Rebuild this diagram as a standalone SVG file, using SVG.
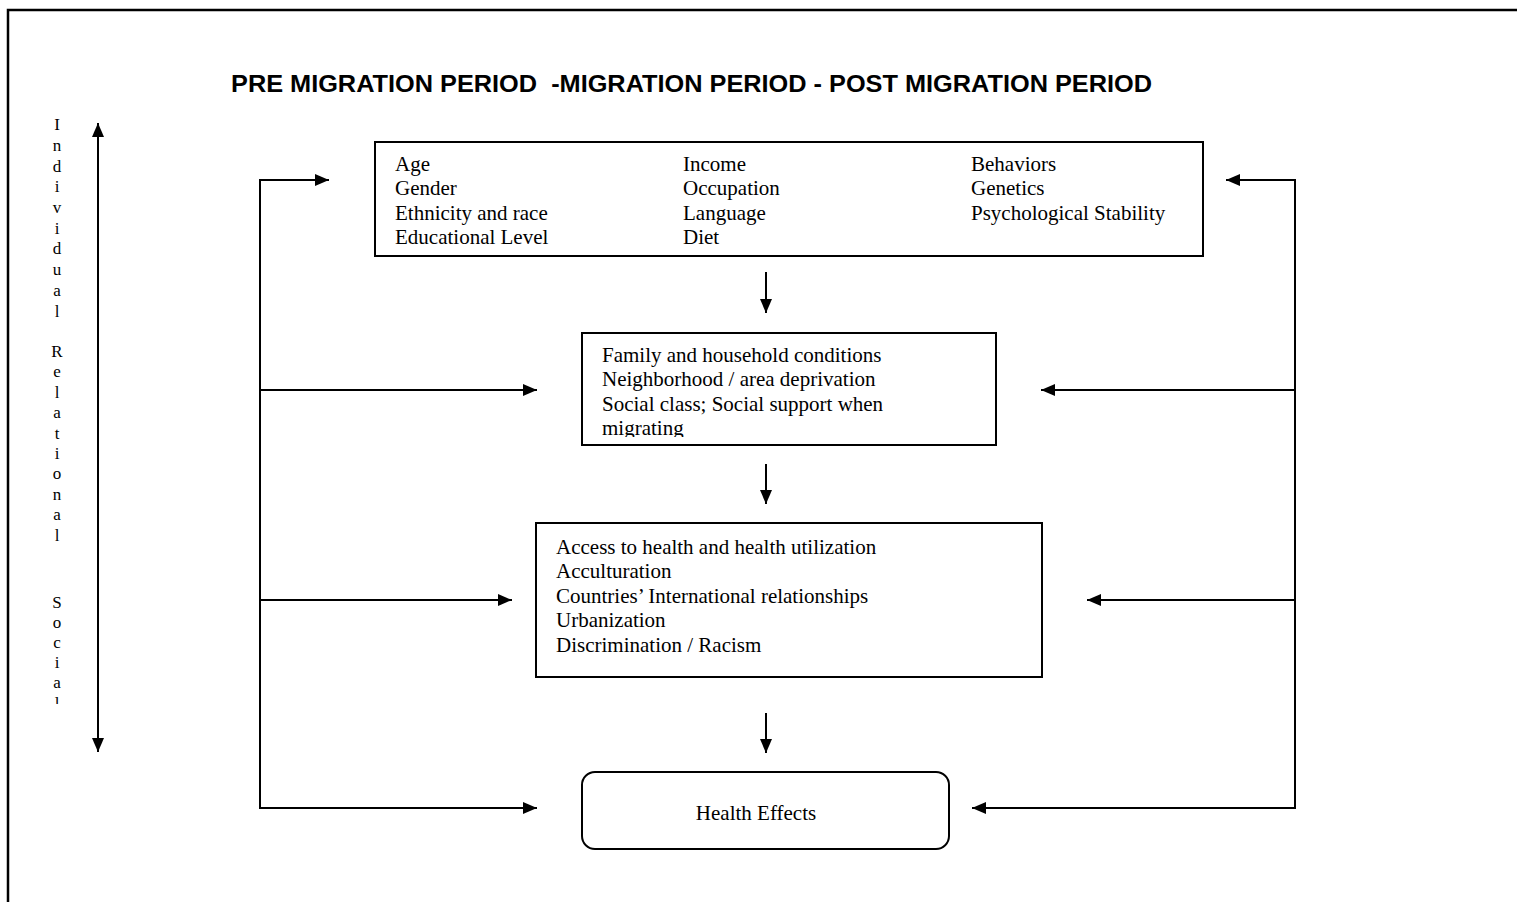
<svg xmlns="http://www.w3.org/2000/svg" width="1517" height="902" viewBox="0 0 1517 902">
  <style>
    .frame { fill: none; stroke: #000; stroke-width: 2.5; }
    .box { fill: #fff; stroke: #000; stroke-width: 2; }
    .line { fill: none; stroke: #000; stroke-width: 2; }
    .txt { font-family: "Liberation Serif", "Times New Roman", serif; font-size: 21px; fill: #000; }
    .vtxt { font-family: "Liberation Serif", "Times New Roman", serif; font-size: 17px; fill: #000; text-anchor: middle; }
    .title { font-family: "Liberation Sans", Arial, sans-serif; font-size: 24px; font-weight: bold; fill: #000; }
  </style>
  <defs>
    <marker id="arrow" viewBox="0 0 14 12" refX="14" refY="6" markerWidth="14" markerHeight="12" markerUnits="userSpaceOnUse" orient="auto-start-reverse">
      <path d="M0,0 L14,6 L0,12 Z" fill="#000"/>
    </marker>
    <clipPath id="clip-side">
      <rect x="30" y="100" width="60" height="604"/>
    </clipPath>
    <clipPath id="clip-social">
      <rect x="582" y="333" width="414" height="104"/>
    </clipPath>
  </defs>

  <rect width="1517" height="902" fill="#fff"/>

  <!-- page frame, open to the right and bottom -->
  <path class="frame" d="M8,904 L8,10 L1519,10"/>

  <text class="title" x="231" y="92" textLength="921" lengthAdjust="spacingAndGlyphs" xml:space="preserve">PRE MIGRATION PERIOD  -MIGRATION PERIOD - POST MIGRATION PERIOD</text>

  <!-- side axis label -->
  <g id="axis-label" clip-path="url(#clip-side)">
    <text class="vtxt" x="57" y="130">I</text>
    <text class="vtxt" x="57" y="151">n</text>
    <text class="vtxt" x="57" y="172">d</text>
    <text class="vtxt" x="57" y="192">i</text>
    <text class="vtxt" x="57" y="213">v</text>
    <text class="vtxt" x="57" y="234">i</text>
    <text class="vtxt" x="57" y="254">d</text>
    <text class="vtxt" x="57" y="275">u</text>
    <text class="vtxt" x="57" y="296">a</text>
    <text class="vtxt" x="57" y="317">l</text>
    <text class="vtxt" x="57" y="357">R</text>
    <text class="vtxt" x="57" y="377">e</text>
    <text class="vtxt" x="57" y="398">l</text>
    <text class="vtxt" x="57" y="418">a</text>
    <text class="vtxt" x="57" y="439">t</text>
    <text class="vtxt" x="57" y="459">i</text>
    <text class="vtxt" x="57" y="479">o</text>
    <text class="vtxt" x="57" y="500">n</text>
    <text class="vtxt" x="57" y="520">a</text>
    <text class="vtxt" x="57" y="541">l</text>
    <text class="vtxt" x="57" y="608">S</text>
    <text class="vtxt" x="57" y="628">o</text>
    <text class="vtxt" x="57" y="648">c</text>
    <text class="vtxt" x="57" y="668">i</text>
    <text class="vtxt" x="57" y="688">a</text>
    <text class="vtxt" x="57" y="709">l</text>
  </g>

  <!-- nodes -->
  <g id="individual-factors">
    <rect class="box" x="375" y="142" width="828" height="114"/>
    <text class="txt" x="395" y="171">Age</text>
    <text class="txt" x="395" y="195">Gender</text>
    <text class="txt" x="395" y="220">Ethnicity and race</text>
    <text class="txt" x="395" y="244">Educational Level</text>
    <text class="txt" x="683" y="171">Income</text>
    <text class="txt" x="683" y="195">Occupation</text>
    <text class="txt" x="683" y="220">Language</text>
    <text class="txt" x="683" y="244">Diet</text>
    <text class="txt" x="971" y="171">Behaviors</text>
    <text class="txt" x="971" y="195">Genetics</text>
    <text class="txt" x="971" y="220">Psychological Stability</text>
  </g>

  <g id="relational-factors">
    <rect class="box" x="582" y="333" width="414" height="112"/>
    <g clip-path="url(#clip-social)">
      <text class="txt" x="602" y="362">Family and household conditions</text>
      <text class="txt" x="602" y="386">Neighborhood / area deprivation</text>
      <text class="txt" x="602" y="411">Social class; Social support when</text>
      <text class="txt" x="602" y="435">migrating</text>
    </g>
  </g>

  <g id="social-factors">
    <rect class="box" x="536" y="523" width="506" height="154"/>
    <text class="txt" x="556" y="554">Access to health and health utilization</text>
    <text class="txt" x="556" y="578">Acculturation</text>
    <text class="txt" x="556" y="603">Countries’ International relationships</text>
    <text class="txt" x="556" y="627">Urbanization</text>
    <text class="txt" x="556" y="652">Discrimination / Racism</text>
  </g>

  <g id="health-effects">
    <rect class="box" x="582" y="772" width="367" height="77" rx="13" ry="13"/>
    <text class="txt" x="756" y="820" text-anchor="middle">Health Effects</text>
  </g>

  <!-- connectors -->
  <g id="connectors">
    <line class="line" x1="98" y1="123" x2="98" y2="752" marker-start="url(#arrow)" marker-end="url(#arrow)"/>

    <line class="line" x1="766" y1="272" x2="766" y2="313" marker-end="url(#arrow)"/>
    <line class="line" x1="766" y1="464" x2="766" y2="504" marker-end="url(#arrow)"/>
    <line class="line" x1="766" y1="713" x2="766" y2="753" marker-end="url(#arrow)"/>

    <path class="line" d="M260,808 L260,180"/>
    <line class="line" x1="259" y1="180" x2="329" y2="180" marker-end="url(#arrow)"/>
    <line class="line" x1="260" y1="390" x2="537" y2="390" marker-end="url(#arrow)"/>
    <line class="line" x1="260" y1="600" x2="512" y2="600" marker-end="url(#arrow)"/>
    <line class="line" x1="259" y1="808" x2="537" y2="808" marker-end="url(#arrow)"/>

    <path class="line" d="M1295,808 L1295,180"/>
    <line class="line" x1="1296" y1="180" x2="1226" y2="180" marker-end="url(#arrow)"/>
    <line class="line" x1="1295" y1="390" x2="1041" y2="390" marker-end="url(#arrow)"/>
    <line class="line" x1="1295" y1="600" x2="1087" y2="600" marker-end="url(#arrow)"/>
    <line class="line" x1="1296" y1="808" x2="972" y2="808" marker-end="url(#arrow)"/>
  </g>
</svg>
